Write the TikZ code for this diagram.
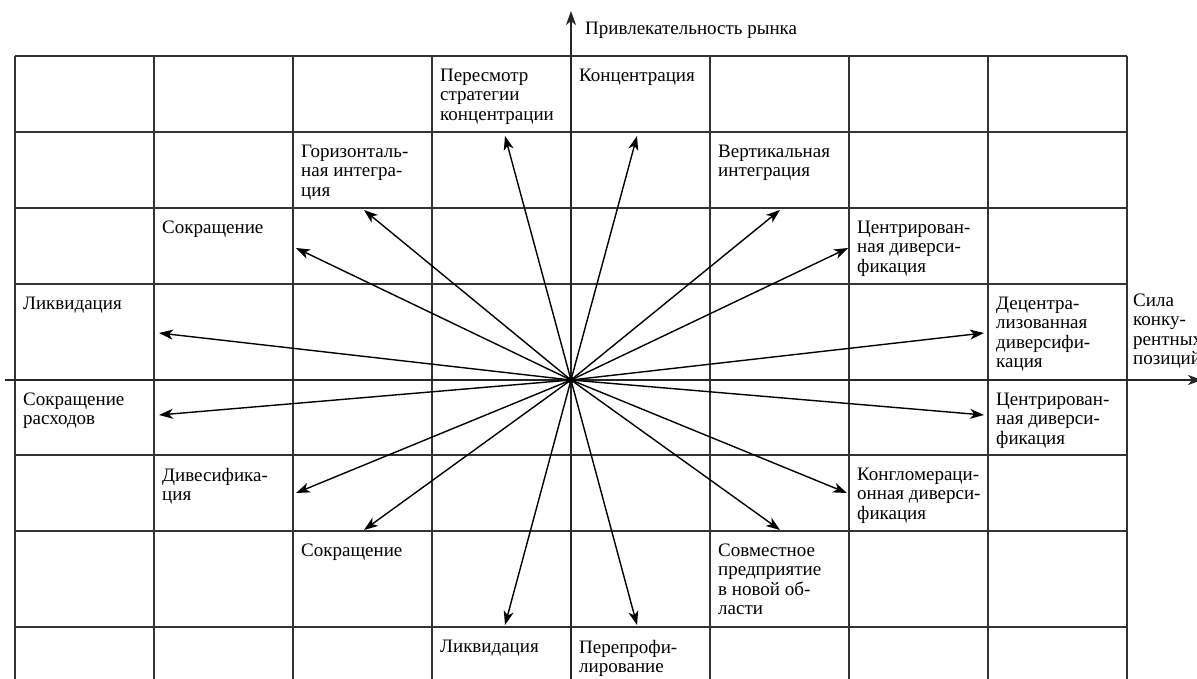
\documentclass[tikz,border=0pt]{standalone}
\usepackage{fontspec}
\setmainfont{Liberation Serif}
\usetikzlibrary{arrows.meta}

\begin{document}
\begin{tikzpicture}[x=1pt,y=-1pt,
  >={Stealth[length=14pt,width=10pt,inset=4pt]},
  grid/.style={line width=1.7pt,draw=black!80},
  axis/.style={line width=1.7pt,draw=black!85},
  ray/.style={line width=1.4pt,->},
  lbl/.style={anchor=north west,inner sep=0pt,align=left,text=black,font=\fontsize{19}{19.2}\selectfont}]
\useasboundingbox (0,0) rectangle (1197,678);
% table
\foreach \x in {15,154,293,432,710,849,988,1127}
  \draw[grid] (\x,56) -- (\x,680);
\foreach \y in {56,132,208,284,455,531,627}
  \draw[grid] (15,\y) -- (1127,\y);
% axes
\coordinate (o) at (571,380);
\coordinate (ybot) at (571,680);
\coordinate (ytop) at (571,11);
\coordinate (xl) at (5,380);
\coordinate (xr) at (1202,380);
\draw[axis,->] (ybot) -- (ytop);
\draw[axis,->] (xl) -- (xr);
\node[lbl,anchor=base west] (ylab) at (585,34) {Привлекательность рынка};
\node[lbl] (xlab) at (1133,294) {Сила\\конку-\\рентных\\позиций};
% strategies
\node[lbl] (revise) at (440,69) {Пересмотр\\стратегии\\концентрации};
\node[lbl] (conc) at (579,69) {Концентрация};
\node[lbl] (horiz) at (301,145) {Горизонталь-\\ная интегра-\\ция};
\node[lbl] (vert) at (718,145) {Вертикальная\\интеграция};
\node[lbl] (cutA) at (162,221) {Сокращение};
\node[lbl] (centrA) at (857,221) {Центрирован-\\ная диверси-\\фикация};
\node[lbl] (liqA) at (23,297) {Ликвидация};
\node[lbl] (decentr) at (996,297) {Децентра-\\лизованная\\диверсифи-\\кация};
\node[lbl] (costs) at (23,393) {Сокращение\\расходов};
\node[lbl] (centrB) at (996,393) {Центрирован-\\ная диверси-\\фикация};
\node[lbl] (divers) at (162,468) {Дивесифика-\\ция};
\node[lbl] (conglo) at (857,468) {Конгломераци-\\онная диверси-\\фикация};
\node[lbl] (cutB) at (301,544) {Сокращение};
\node[lbl] (joint) at (718,544) {Совместное\\предприятие\\в новой об-\\ласти};
\node[lbl] (liqB) at (440,640) {Ликвидация};
\node[lbl] (reprof) at (579,640) {Перепрофи-\\лирование};
% arrow ends
\coordinate (t1) at (505,136);
\coordinate (t2) at (637,136);
\coordinate (t3) at (364,210);
\coordinate (t4) at (780,210);
\coordinate (t5) at (296,248);
\coordinate (t6) at (848,248);
\coordinate (t7) at (159,333);
\coordinate (t8) at (984,333);
\coordinate (t9) at (159,415);
\coordinate (t10) at (984,415);
\coordinate (t11) at (296,493);
\coordinate (t12) at (847,493);
\coordinate (t13) at (364,530);
\coordinate (t14) at (780,530);
\coordinate (t15) at (505,625);
\coordinate (t16) at (637,625);
\foreach \i in {1,...,16}
  \draw[ray] (o) -- (t\i);
\fill (o) circle (3.5pt);
\end{tikzpicture}
\end{document}
